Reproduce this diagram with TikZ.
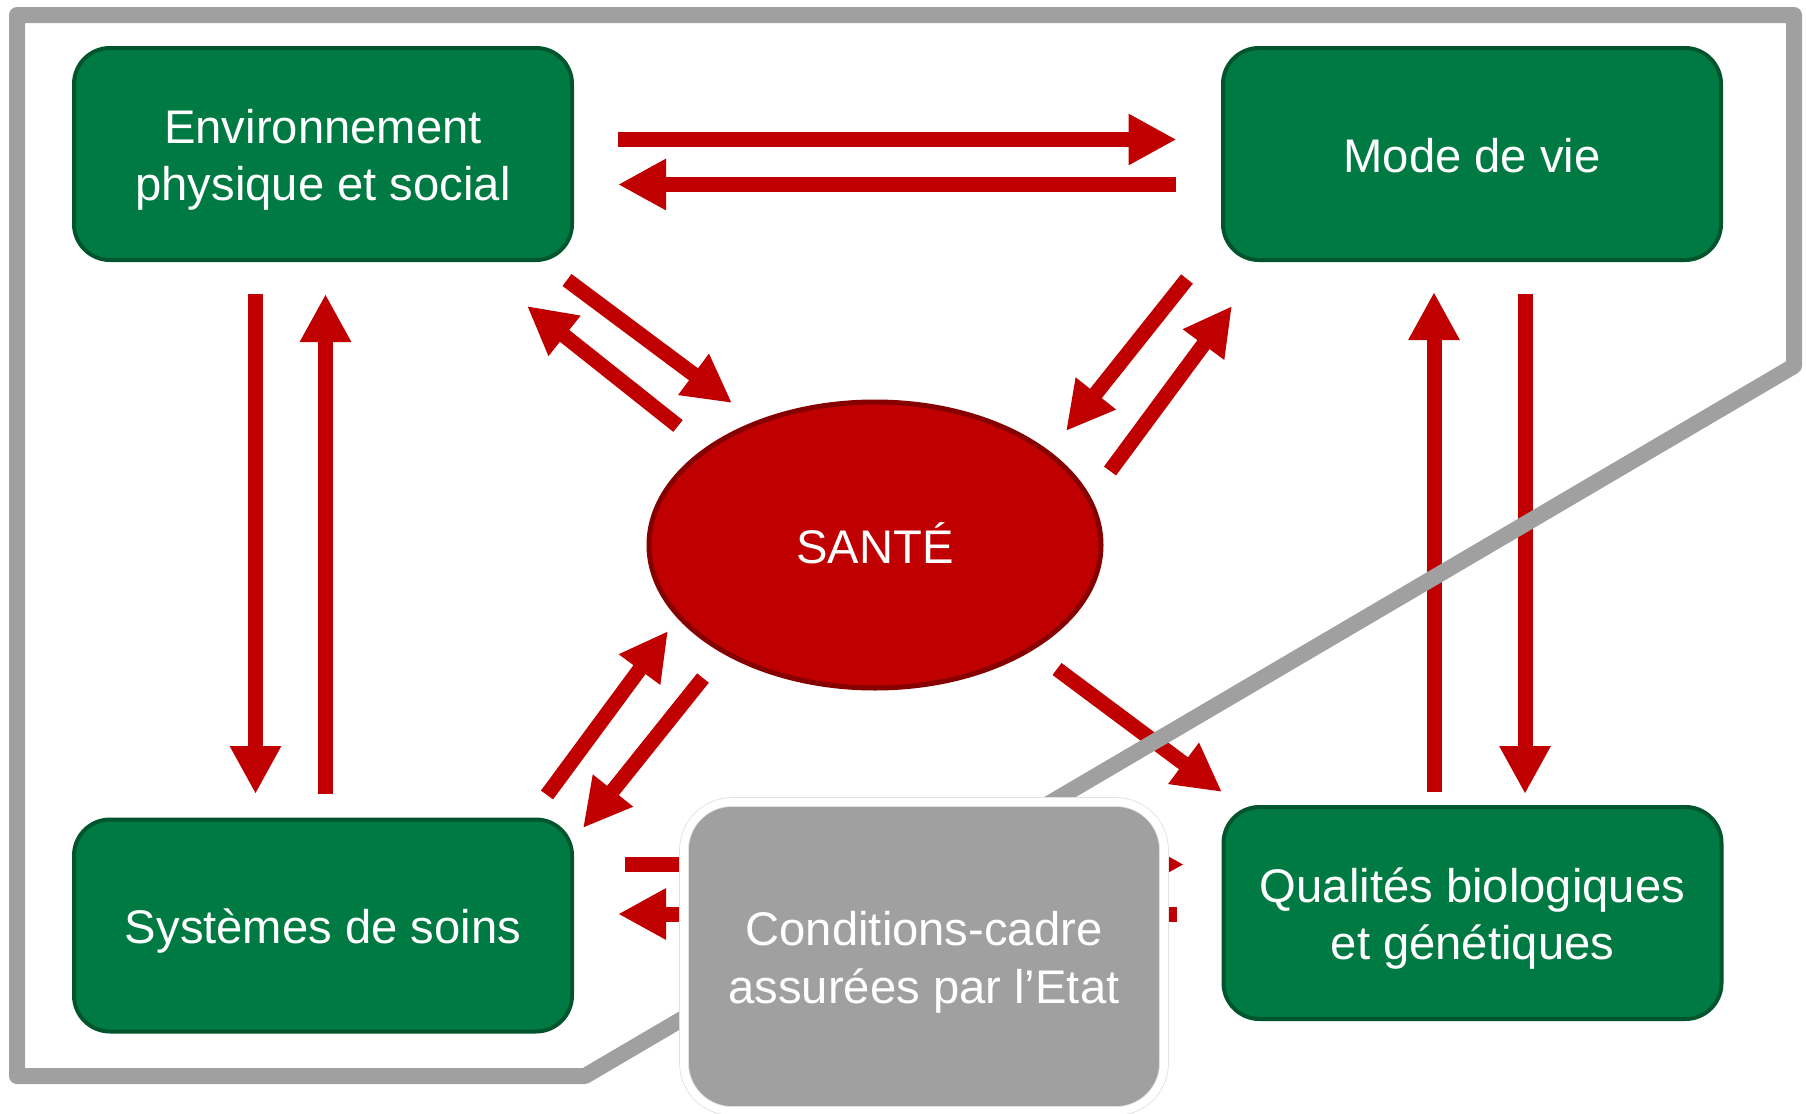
\documentclass[tikz,border=0pt]{standalone}
\usepackage{fontspec}
\setmainfont{Liberation Sans}
\usetikzlibrary{arrows.meta,calc,shapes.geometric}
\definecolor{gfill}{RGB}{0,122,67}
\definecolor{gline}{RGB}{0,85,45}
\definecolor{rfill}{RGB}{192,0,0}
\definecolor{rline}{RGB}{135,0,0}
\definecolor{grey}{RGB}{160,160,160}
\newcommand{\mytop}{\rule{0pt}{23.5pt}}
\newcommand{\mybot}{\rule[-5.5pt]{0pt}{5.5pt}}
\tikzset{
  box/.style={draw=gline, fill=gfill, line width=2pt, rounded corners=18pt,
    minimum width=249pt, minimum height=106pt, text=white, align=center,
    font=\fontsize{23.6}{28.8}\selectfont},
  sante/.style={ellipse, draw=rline, fill=rfill, line width=2.5pt,
    minimum width=226pt, minimum height=143pt, text=white,
    font=\fontsize{23.6}{28.8}\selectfont},
  cond/.style={draw=black!12, double=white, double distance=4pt, line width=0.4pt,
    fill=grey, rounded corners=24pt,
    minimum width=240pt, minimum height=154.5pt, text=white, align=center,
    font=\fontsize{23.6}{28.8}\selectfont},
  blk/.style={draw=rfill, line width=7.5pt, -{Triangle[length=24pt,width=24pt]}},
  frame/.style={draw=grey, line width=8pt, line join=round}
}
\begin{document}
\begin{tikzpicture}[x=0.5pt,y=-0.5pt]
\useasboundingbox (0,0) rectangle (1806,1114);
\node[box] (env) at (323,154) {\mytop Environnement\\physique et social\mybot};
\node[box] (mode) at (1472,154) {\mytop Mode de vie\mybot};
\node[box] (sys) at (323,925.5) {\mytop Systèmes de soins\mybot};
\node[box] (qual) at (1472.5,913) {\mytop Qualités biologiques\\et génétiques\mybot};
\node[sante] (san) at (875,545) {\mytop SANTÉ\mybot};
% arrows
\draw[blk] ($(env)+(295,-14.5)$) -- ($(mode)+(-295.5,-14.5)$);
\draw[blk] ($(mode)+(-296,30.5)$) -- ($(env)+(295,30.5)$);
\draw[blk] ($(env)+(-67.5,140)$) -- ($(sys)+(-67.5,-131.5)$);
\draw[blk] ($(sys)+(2.5,-131.5)$) -- ($(env)+(2.5,140)$);
\draw[blk] ($(qual)+(-38.5,-121)$) -- ($(mode)+(-38,138)$);
\draw[blk] ($(mode)+(53,140)$) -- ($(qual)+(52.5,-119)$);
\draw[blk] ($(env)+(244,126)$) -- ($(san)+(-143,-142)$);
\draw[blk] ($(san)+(-197,-119)$) -- ($(env)+(204,152)$);
\draw[blk] ($(mode)+(-285,125)$) -- ($(san)+(191,-114)$);
\draw[blk] ($(san)+(235,-74)$) -- ($(mode)+(-240,152)$);
\draw[blk] ($(sys)+(224,-130.5)$) -- ($(san)+(-207,86)$);
\draw[blk] ($(san)+(-172,133)$) -- ($(sys)+(260,-97.5)$);
\draw[blk] ($(san)+(182,124)$) -- ($(qual)+(-250.5,-121)$);
\draw[blk] ($(sys)+(302,-61)$) -- ($(qual)+(-288.5,-48.5)$);
\draw[blk] ($(qual)+(-295.5,1)$) -- ($(sys)+(295,-11.5)$);
% frame
\draw[frame] (17,15) -- (1794,15) -- (1794,366) -- (585,1076) -- (17,1076) -- cycle;
\node[cond] (etat) at (924,956.5) {\mytop Conditions-cadre\\assurées par l’Etat\mybot};
\end{tikzpicture}
\end{document}
